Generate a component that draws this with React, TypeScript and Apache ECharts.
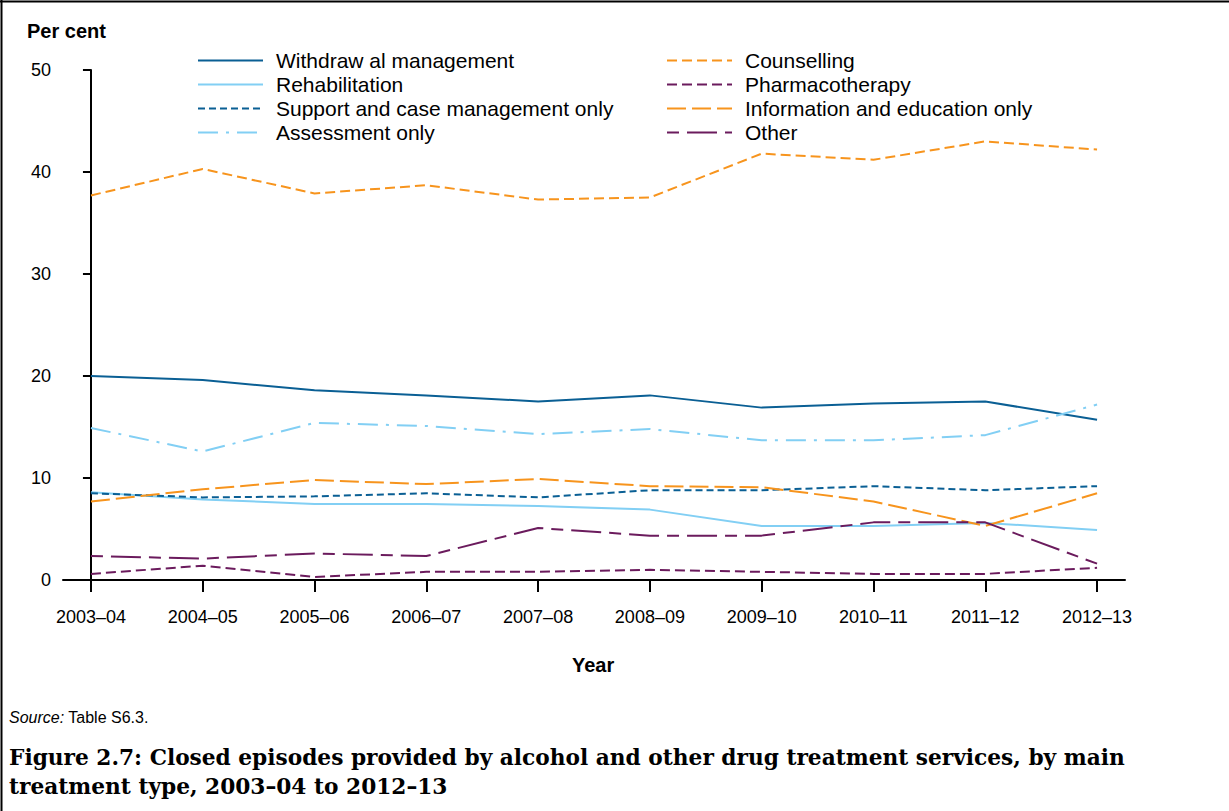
import React, { useEffect, useRef } from 'react';
import * as echarts from 'echarts';

const years = ['2003–04', '2004–05', '2005–06', '2006–07', '2007–08', '2008–09', '2009–10', '2010–11', '2011–12', '2012–13'];
const yTicks = [0, 10, 20, 30, 40, 50];

const withdrawal = [20.0, 19.6, 18.6, 18.1, 17.5, 18.1, 16.9, 17.3, 17.5, 15.7];
const rehabilitation = [8.6, 7.9, 7.45, 7.45, 7.25, 6.9, 5.3, 5.3, 5.6, 4.9];
const support = [8.5, 8.1, 8.2, 8.5, 8.1, 8.8, 8.8, 9.2, 8.8, 9.2];
const assessment = [14.9, 12.6, 15.4, 15.1, 14.3, 14.8, 13.7, 13.7, 14.2, 17.2];
const counselling = [37.7, 40.3, 37.9, 38.7, 37.3, 37.5, 41.8, 41.2, 43.0, 42.2];
const pharmacotherapy = [0.6, 1.4, 0.3, 0.8, 0.8, 1.0, 0.8, 0.6, 0.6, 1.2];
const infoEducation = [7.7, 8.9, 9.8, 9.4, 9.9, 9.2, 9.1, 7.7, 5.3, 8.5];
const other = [2.35, 2.1, 2.6, 2.35, 5.1, 4.35, 4.35, 5.65, 5.65, 1.6];

const leftNames = ['Withdraw al management', 'Rehabilitation', 'Support and case management only', 'Assessment only'];
const rightNames = ['Counselling', 'Pharmacotherapy', 'Information and education only', 'Other'];

const DARK_BLUE = '#0a5f94';
const LIGHT_BLUE = '#82cff4';
const ORANGE = '#f7941d';
const PURPLE = '#6b1b5d';

const SANS = '"Liberation Sans", Arial, sans-serif';
const SERIF = '"DejaVu Serif", "Liberation Serif", serif';

const seriesDefs = [
  { name: leftNames[0], values: withdrawal, color: DARK_BLUE, type: 'solid' as any },
  { name: leftNames[1], values: rehabilitation, color: LIGHT_BLUE, type: 'solid' as any },
  { name: leftNames[2], values: support, color: DARK_BLUE, type: [7, 4] },
  { name: leftNames[3], values: assessment, color: LIGHT_BLUE, type: [20, 8, 3, 8] },
  { name: rightNames[0], values: counselling, color: ORANGE, type: [10, 5] },
  { name: rightNames[1], values: pharmacotherapy, color: PURPLE, type: [10, 5] },
  { name: rightNames[2], values: infoEducation, color: ORANGE, type: [19, 6] },
  { name: rightNames[3], values: other, color: PURPLE, type: [12, 8, 30, 8] },
];

const idx = years.map((_, i) => i);

export default function App() {
  const ref = useRef<HTMLDivElement>(null);
  useEffect(() => {
    const chart = echarts.init(ref.current!, null, { renderer: 'svg' });
    const legendBase = {
      orient: 'vertical',
      top: 50,
      padding: 0,
      itemWidth: 65,
      itemHeight: 16,
      itemGap: 3,
      selectedMode: false,
      itemStyle: { opacity: 0 },
      textStyle: { fontSize: 21, fontFamily: SANS, color: '#000', lineHeight: 21, padding: [0, 0, 0, 8] },
    };
    chart.setOption({
      animation: false,
      backgroundColor: '#fff',
      grid: { left: 63, right: 104, top: 70, bottom: 231, containLabel: false, outerBoundsMode: 'none' },
      legend: [
        { ...legendBase, left: 197, data: leftNames },
        { ...legendBase, left: 666, data: rightNames },
      ],
      xAxis: {
        type: 'value',
        min: -0.25,
        max: 9.25,
        axisLine: { show: true, lineStyle: { color: '#000', width: 2 } },
        axisTick: { show: true, customValues: idx, length: 12, lineStyle: { color: '#000', width: 2 } },
        axisLabel: {
          customValues: idx,
          formatter: (v: number) => years[Math.round(v)] ?? '',
          margin: 28,
          fontSize: 18,
          fontFamily: SANS,
          color: '#000',
        },
        splitLine: { show: false },
      },
      yAxis: {
        type: 'value',
        min: yTicks[0],
        max: yTicks[yTicks.length - 1],
        interval: 10,
        axisLine: { show: true, lineStyle: { color: '#000', width: 2 } },
        axisTick: { show: true, length: 8, lineStyle: { color: '#000', width: 2 } },
        axisLabel: { margin: 12, fontSize: 18, fontFamily: SANS, color: '#000' },
        splitLine: { show: false },
      },
      series: seriesDefs.map((s) => ({
        name: s.name,
        type: 'line',
        symbol: 'none',
        data: s.values.map((v, i) => [i, v]),
        itemStyle: { color: s.color },
        lineStyle: { color: s.color, width: 2, type: s.type },
        emphasis: { disabled: true },
      })),
      graphic: [
        { type: 'line', shape: { x1: 1.5, y1: 0, x2: 1.5, y2: 811 }, style: { stroke: '#000', lineWidth: 2 } },
        { type: 'line', shape: { x1: 0, y1: 1.5, x2: 1229, y2: 1.5 }, style: { stroke: '#000', lineWidth: 2 } },
        { type: 'text', left: 27, top: 21, style: { text: 'Per cent', fontSize: 20, fontWeight: 'bold', fontFamily: SANS, fill: '#000' } },
        { type: 'text', left: 572, top: 655, style: { text: 'Year', fontSize: 20, fontWeight: 'bold', fontFamily: SANS, fill: '#000' } },
        {
          type: 'text', left: 9, top: 709,
          style: {
            text: '{i|Source:} Table S6.3.',
            fontSize: 16, fontFamily: SANS, fill: '#000',
            rich: { i: { fontStyle: 'italic', fontSize: 16, fontFamily: SANS, fill: '#000' } },
          },
        },
        {
          type: 'text', left: 9, top: 743,
          style: {
            text: 'Figure 2.7: Closed episodes provided by alcohol and other drug treatment services, by main\ntreatment type, 2003–04 to 2012–13',
            fontSize: 21.7, fontWeight: 'bold', fontFamily: SERIF, fill: '#000', lineHeight: 29,
          },
        },
      ],
    });
    return () => chart.dispose();
  }, []);
  return <div ref={ref} style={{ position: 'fixed', left: 0, top: 0, width: 1229, height: 811, background: '#fff' }} />;
}
